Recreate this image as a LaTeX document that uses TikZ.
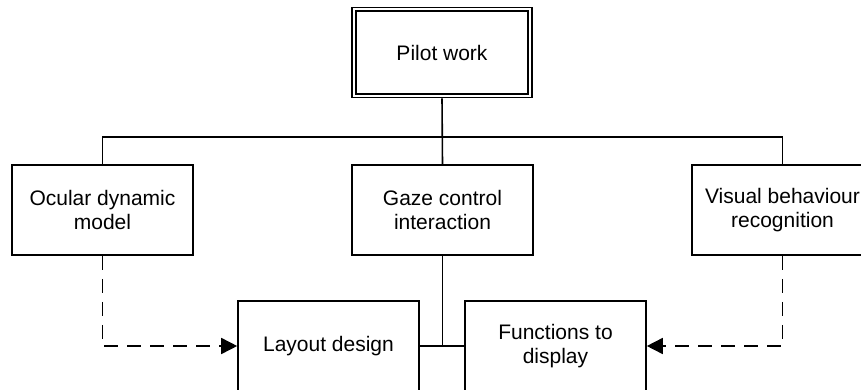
\documentclass[tikz,border=0pt]{standalone}
\usepackage{fontspec}
\setmainfont{Liberation Sans}
\usetikzlibrary{arrows.meta}
\begin{document}
\begin{tikzpicture}[x=1pt,y=-1pt,
  boxtext/.style={font=\fontsize{21}{24}\selectfont, align=center, inner sep=0pt},
  box/.style={boxtext, draw, line width=1.6pt, minimum width=181pt, minimum height=90pt},
  topbox/.style={boxtext, draw, double, double distance=2.4pt, line width=1.4pt,
    minimum width=176pt, minimum height=86.5pt, outer sep=2.6pt},
  link/.style={line width=1.6pt},
  dashlink/.style={line width=1.6pt, dash pattern=on 14pt off 9pt,
    -{Triangle[length=16pt,width=16pt]}}]
  \useasboundingbox (0,0) rectangle (861,390);
  \clip (0,0) rectangle (861,390);

  % boxes
  \node[topbox] (pilot)  at (442,52.5)  {Pilot work};
  \node[box]    (ocular) at (102.5,210) {Ocular dynamic\\model};
  \node[box]    (gaze)   at (442.5,210) {Gaze control\\interaction};
  \node[box]    (visual) at (782.5,210) {Visual behaviour\\recognition};
  \node[box]    (layout) at (328.5,346) {Layout design};
  \node[box]    (funcs)  at (555.5,346) {Functions to\\display};

  % tree from the top box
  \coordinate (bus) at (442.5,137);
  \draw[link] (pilot.south) -- (gaze.north);
  \draw[link] (ocular.north) |- (bus) -| (visual.north);

  % gaze control joins the two lower boxes
  \coordinate (join) at (gaze.south |- layout.east);
  \draw[link] (gaze.south) -- (join);
  \draw[link] (layout.east) -- (funcs.west);

  % dashed feeds into the lower boxes
  \draw[dashlink] (ocular.south) |- (layout.west);
  \draw[dashlink] (visual.south) |- (funcs.east);
\end{tikzpicture}
\end{document}
